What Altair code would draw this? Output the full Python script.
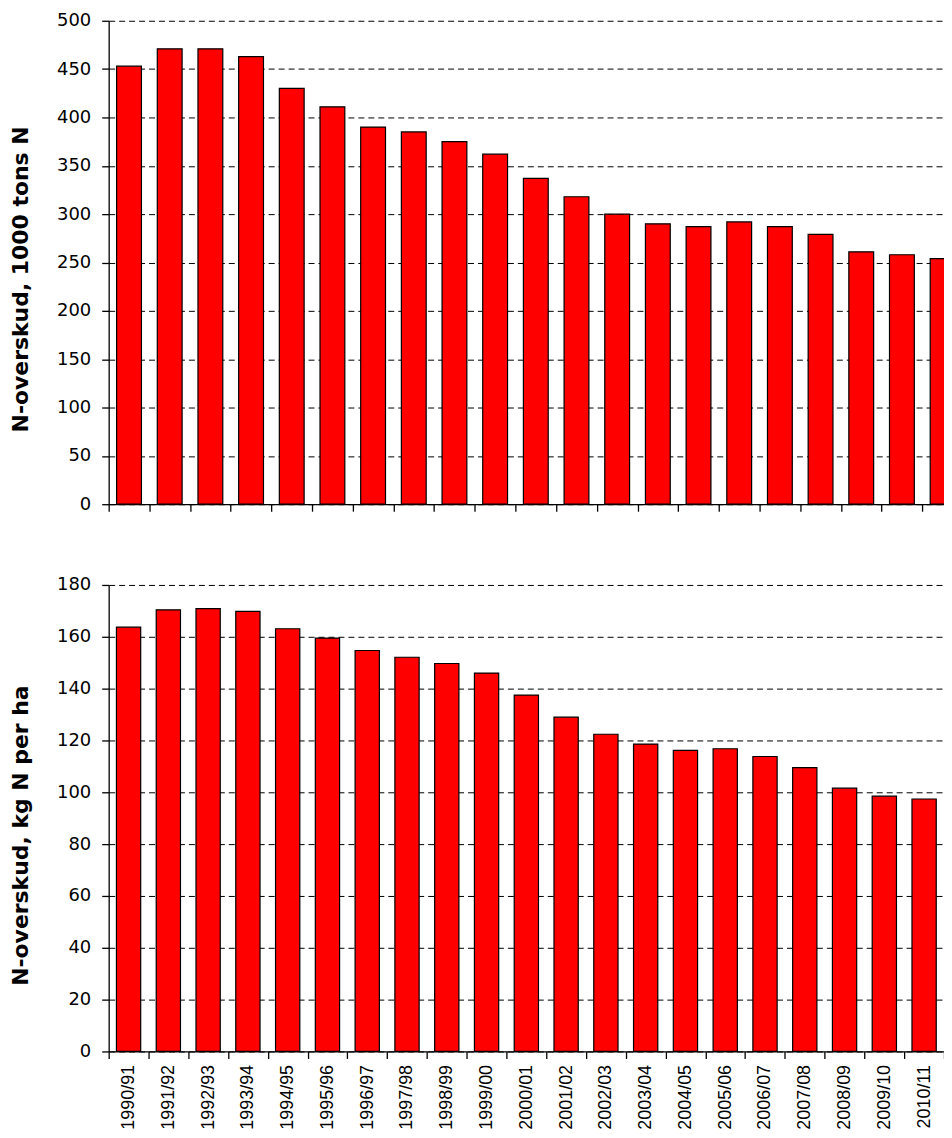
import altair as alt
import pandas as pd

seasons = ["1990/91", "1991/92", "1992/93", "1993/94", "1994/95", "1995/96",
           "1996/97", "1997/98", "1998/99", "1999/00", "2000/01", "2001/02",
           "2002/03", "2003/04", "2004/05", "2005/06", "2006/07", "2007/08",
           "2008/09", "2009/10", "2010/11"]
tons_n = [453, 471, 471, 463, 430, 411, 390, 385, 375, 362, 337, 318,
          300, 290, 287, 292, 287, 279, 261, 258, 254]
kg_per_ha = [163.7, 170.4, 170.9, 169.8, 163.1, 159.5, 154.7, 152.1, 149.7,
             146.0, 137.5, 129.0, 122.4, 118.6, 116.2, 116.8, 113.8, 109.5,
             101.6, 98.5, 97.4]

top_title = "N-overskud, 1000 tons N"
bottom_title = "N-overskud, kg N per ha"
top_ticks = [0, 50, 100, 150, 200, 250, 300, 350, 400, 450, 500]
bottom_ticks = [0, 20, 40, 60, 80, 100, 120, 140, 160, 180]

df = pd.DataFrame({"season": seasons, "tons": tons_n, "perha": kg_per_ha})

FONT = "DejaVu Sans"
XFONT = "Liberation Sans"


def panel(field, title, ticks, width, height, show_labels, title_y):
    x_axis = alt.Axis(
        title=None, labels=show_labels, labelAngle=-90, labelFont=XFONT,
        labelFontSize=18, labelColor="black", labelPadding=6,
        labelOverlap=False, tickBand="extent", tickSize=7, tickColor="black",
        tickWidth=1.3, domainColor="black", domainWidth=1.3, grid=False,
    )
    y_axis = alt.Axis(
        title=title, values=ticks, grid=True, gridDash=[6, 4],
        gridColor="black", gridWidth=1, gridOpacity=1,
        labelFont=FONT, labelFontSize=18, labelColor="black", labelPadding=11,
        tickSize=7, tickColor="black", tickWidth=1.3,
        domainColor="black", domainWidth=1.3,
        titleFont=FONT, titleFontSize=22, titleFontWeight="bold",
        titleColor="black", titlePadding=24, titleY=title_y,
    )
    return alt.Chart(df).mark_bar(
        width=alt.RelativeBandSize(band=0.61), color="#FF0000",
        stroke="black", strokeWidth=1.2,
    ).encode(
        x=alt.X("season:N", sort=seasons,
                scale=alt.Scale(paddingInner=0, paddingOuter=0), axis=x_axis),
        y=alt.Y(f"{field}:Q",
                scale=alt.Scale(domain=[ticks[0], ticks[-1]], nice=False),
                axis=y_axis),
    ).properties(width=width, height=height)


top = panel("tons", top_title, top_ticks, 857, 485, False, 259)
bottom = panel("perha", bottom_title, bottom_ticks, 838, 468, True, 251)

chart = alt.vconcat(top, bottom, spacing=63).properties(
    padding={"left": 1, "top": 2, "right": -20, "bottom": 0}
).configure_view(stroke=None)

chart.save("out.html", embed_options={"renderer": "svg", "actions": False})
